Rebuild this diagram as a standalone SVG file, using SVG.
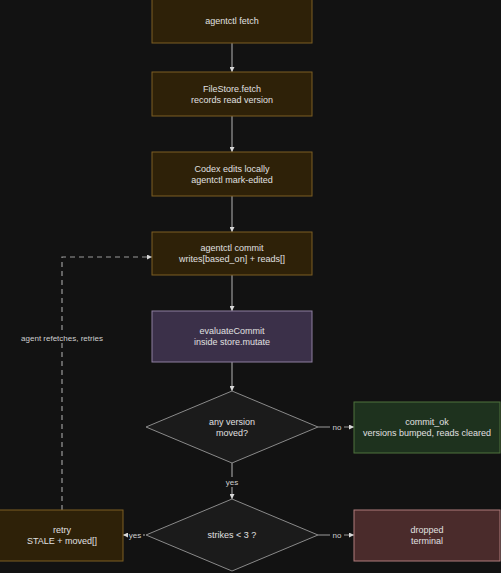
<svg xmlns="http://www.w3.org/2000/svg" width="501" height="573" viewBox="0 0 501 573">
<defs>
<marker id="arr" viewBox="0 0 10 10" refX="10" refY="5" markerWidth="5" markerHeight="5" orient="auto-start-reverse" markerUnits="userSpaceOnUse">
<path d="M0,0 L10,5 L0,10 z" fill="#d8d8d8"/>
</marker>
<style>
.t{font-family:"Liberation Sans",Arial,sans-serif;font-size:9px;fill:#e0e0e0;text-anchor:middle}
.l{font-family:"Liberation Sans",Arial,sans-serif;font-size:8px;fill:#cfcfcf;text-anchor:middle}
.brown{fill:#2e2108;stroke:#7d5e22;stroke-width:1}
.purple{fill:#3b3049;stroke:#8e7fa0;stroke-width:1}
.green{fill:#1e321e;stroke:#4e733c;stroke-width:1}
.red{fill:#4a2b2b;stroke:#b07c7c;stroke-width:1}
.dia{fill:#1b1b1b;stroke:#8a8a8a;stroke-width:1}
.c{stroke:#9a9a9a;stroke-width:1.2;fill:none}
.lb{fill:#121212}
</style>
</defs>
<rect width="501" height="573" fill="#121212"/>
<g id="connectors">
<line class="c" x1="232" y1="43" x2="232" y2="72" marker-end="url(#arr)"/>
<line class="c" x1="232" y1="116" x2="232" y2="152" marker-end="url(#arr)"/>
<line class="c" x1="232" y1="196" x2="232" y2="232" marker-end="url(#arr)"/>
<line class="c" x1="232" y1="275" x2="232" y2="311" marker-end="url(#arr)"/>
<line class="c" x1="232" y1="362" x2="232" y2="391" marker-end="url(#arr)"/>
<line class="c" x1="318" y1="427" x2="354" y2="427" marker-end="url(#arr)"/>
<rect class="lb" x="330" y="422" width="14" height="10"/>
<text class="l" x="337" y="430">no</text>
<line class="c" x1="232" y1="463" x2="232" y2="499" marker-end="url(#arr)"/>
<rect class="lb" x="224" y="477" width="16" height="10"/>
<text class="l" x="232" y="485">yes</text>
<line class="c" x1="318" y1="535" x2="354" y2="535" marker-end="url(#arr)"/>
<rect class="lb" x="330" y="530" width="14" height="10"/>
<text class="l" x="337" y="538">no</text>
<line class="c" x1="145" y1="535" x2="123" y2="535" marker-end="url(#arr)"/>
<rect class="lb" x="128" y="530" width="15" height="10"/>
<text class="l" x="135" y="538">yes</text>
<polyline class="c" points="62,510 62,257 152,257" stroke-dasharray="5,4" marker-end="url(#arr)"/>
<rect class="lb" x="20" y="332" width="84" height="11"/>
<text class="l" x="62" y="341">agent refetches, retries</text>
</g>
<g id="n1"><rect class="brown" x="152" y="-1" width="160" height="44"/><text class="t" x="232" y="24">agentctl fetch</text></g>
<g id="n2"><rect class="brown" x="152" y="72" width="160" height="44"/><text class="t" x="232" y="92">FileStore.fetch</text><text class="t" x="232" y="103">records read version</text></g>
<g id="n3"><rect class="brown" x="152" y="152" width="160" height="44"/><text class="t" x="232" y="172">Codex edits locally</text><text class="t" x="232" y="183">agentctl mark-edited</text></g>
<g id="n4"><rect class="brown" x="152" y="232" width="160" height="43"/><text class="t" x="232" y="251">agentctl commit</text><text class="t" x="232" y="262">writes[based_on] + reads[]</text></g>
<g id="n5"><rect class="purple" x="152" y="311" width="160" height="51"/><text class="t" x="232" y="334">evaluateCommit</text><text class="t" x="232" y="345">inside store.mutate</text></g>
<g id="d1"><polygon class="dia" points="232,391 318,427 232,463 146,427"/><text class="t" x="232" y="425">any version</text><text class="t" x="232" y="436">moved?</text></g>
<g id="n6"><rect class="green" x="354" y="402" width="146" height="51"/><text class="t" x="427" y="425">commit_ok</text><text class="t" x="427" y="436">versions bumped, reads cleared</text></g>
<g id="d2"><polygon class="dia" points="232,499 318,535 232,571 146,535"/><text class="t" x="232" y="538">strikes &lt; 3 ?</text></g>
<g id="n7"><rect class="brown" x="-1" y="510" width="124" height="51"/><text class="t" x="62" y="533">retry</text><text class="t" x="62" y="544">STALE + moved[]</text></g>
<g id="n8"><rect class="red" x="354" y="510" width="146" height="51"/><text class="t" x="427" y="533">dropped</text><text class="t" x="427" y="544">terminal</text></g>
</svg>
